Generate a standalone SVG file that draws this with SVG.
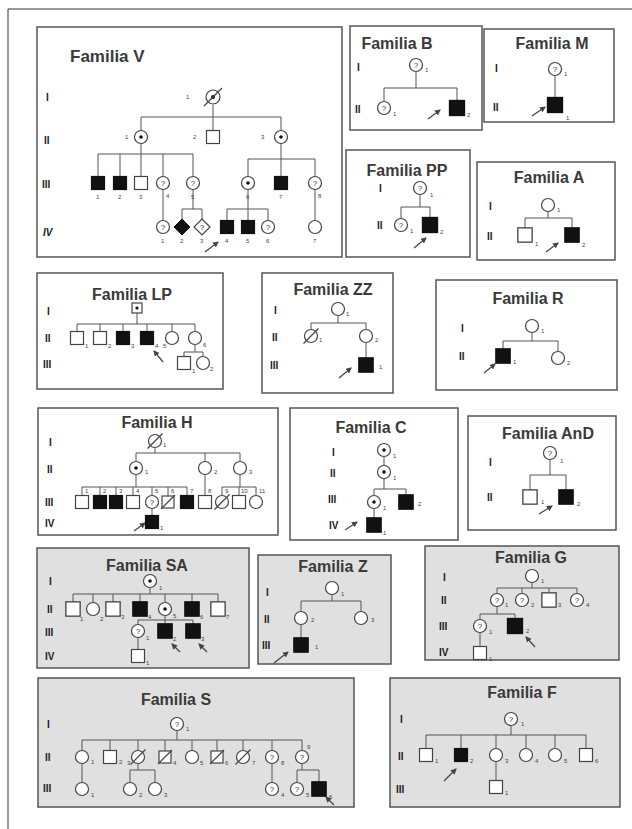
<svg xmlns="http://www.w3.org/2000/svg" xmlns:xlink="http://www.w3.org/1999/xlink" width="632" height="829" viewBox="0 0 632 829">
<style>
.box{fill:#fff;stroke:#555;stroke-width:1.5}
.boxg{fill:#e0e0e0;stroke:#555;stroke-width:1.5}
.t{font-family:"Liberation Sans",Arial,sans-serif;font-weight:bold;font-size:16px;fill:#3a3a3a;text-anchor:middle}
.g{font-family:"Liberation Sans",Arial,sans-serif;font-weight:bold;font-size:10px;fill:#222}
.n{font-family:"Liberation Sans",Arial,sans-serif;font-size:6px;fill:#444}
#connectors path{fill:none;stroke:#555;stroke-width:1}
.ar{stroke:#444;stroke-width:1.2;fill:none}
</style>
<defs>
<marker id="ah" viewBox="0 0 6 6" refX="5" refY="3" markerWidth="5" markerHeight="5" orient="auto"><path d="M0 0L6 3L0 6Z" fill="#444"/></marker>
<g id="sq"><rect x="-6.5" y="-6.5" width="13" height="13" fill="#fff" stroke="#444" stroke-width="1.2"/></g>
<g id="sqf"><rect x="-6.5" y="-6.5" width="13" height="13" fill="#111" stroke="#111" stroke-width="1.2"/></g>
<g id="sqd"><rect x="-5" y="-5" width="10" height="10" fill="#fff" stroke="#444" stroke-width="1.2"/><circle r="1.6" fill="#111"/></g>
<g id="sqx"><rect x="-6" y="-6" width="12" height="12" fill="#fff" stroke="#444" stroke-width="1.2"/><line x1="-7" y1="7" x2="7" y2="-7" stroke="#444" stroke-width="1.2"/></g>
<g id="ci"><circle r="6.5" fill="#fff" stroke="#444" stroke-width="1.2"/></g>
<g id="cid"><circle r="6.5" fill="#fff" stroke="#444" stroke-width="1.2"/><circle r="1.8" fill="#111"/></g>
<g id="ciq"><circle r="6.5" fill="#fff" stroke="#444" stroke-width="1.2"/><text y="2.8" font-family="Liberation Sans,Arial,sans-serif" font-size="8" text-anchor="middle" fill="#333">?</text></g>
<g id="cix"><circle r="6.5" fill="#fff" stroke="#444" stroke-width="1.2"/><line x1="-7.5" y1="7.5" x2="7.5" y2="-7.5" stroke="#444" stroke-width="1.2"/></g>
<g id="cixd"><circle r="7" fill="#fff" stroke="#444" stroke-width="1.2"/><circle r="2" fill="#111"/><line x1="-9" y1="9" x2="9" y2="-9" stroke="#444" stroke-width="1.2"/></g>
<g id="dmf"><path d="M0 -8L8 0L0 8L-8 0Z" fill="#111" stroke="#111"/></g>
<g id="dmq"><path d="M0 -8L8 0L0 8L-8 0Z" fill="#fff" stroke="#444" stroke-width="1.2"/><text y="2.8" font-family="Liberation Sans,Arial,sans-serif" font-size="8" text-anchor="middle" fill="#333">?</text></g>
</defs>
<rect width="632" height="829" fill="#fff"/>
<path d="M8 829V9H632" fill="none" stroke="#333" stroke-width="1"/>

<g id="panels">
<rect class="box" x="37" y="27" width="305" height="230"/>
<rect class="box" x="350" y="26" width="132" height="104"/>
<rect class="box" x="484" y="29" width="130" height="93"/>
<rect class="box" x="346" y="150" width="124" height="107"/>
<rect class="box" x="477" y="162" width="138" height="98"/>
<rect class="box" x="37" y="273" width="186" height="116"/>
<rect class="box" x="262" y="273" width="131" height="120"/>
<rect class="box" x="436" y="280" width="181" height="110"/>
<rect class="box" x="38" y="408" width="240" height="127"/>
<rect class="box" x="290" y="408" width="168" height="132"/>
<rect class="box" x="468" y="416" width="148" height="114"/>
<rect class="boxg" x="37" y="548" width="212" height="120"/>
<rect class="boxg" x="258" y="555" width="133" height="109"/>
<rect class="boxg" x="425" y="546" width="194" height="114"/>
<rect class="boxg" x="38" y="678" width="316" height="129"/>
<rect class="boxg" x="390" y="678" width="230" height="129"/>
</g>

<g id="titles">
<text class="t" x="70" y="62" style="text-anchor:start;font-size:17px">Familia V</text>
<text class="t" x="397" y="49">Familia B</text>
<text class="t" x="552" y="49">Familia M</text>
<text class="t" x="407" y="176">Familia PP</text>
<text class="t" x="549" y="183">Familia A</text>
<text class="t" x="132" y="300">Familia LP</text>
<text class="t" x="333" y="295">Familia ZZ</text>
<text class="t" x="528" y="304">Familia R</text>
<text class="t" x="157" y="428">Familia H</text>
<text class="t" x="371" y="433">Familia C</text>
<text class="t" x="548" y="439">Familia AnD</text>
<text class="t" x="147" y="571">Familia SA</text>
<text class="t" x="333" y="572">Familia Z</text>
<text class="t" x="531" y="563">Familia G</text>
<text class="t" x="176" y="705">Familia S</text>
<text class="t" x="522" y="698">Familia F</text>
</g>

<g id="generations">
<text class="g" x="46" y="101">I</text><text class="g" x="44" y="144">II</text><text class="g" x="42" y="188">III</text><text class="g" x="43" y="236" font-style="italic">IV</text>
<text class="g" x="357" y="71">I</text><text class="g" x="355" y="113">II</text>
<text class="g" x="495" y="72">I</text><text class="g" x="493" y="111">II</text>
<text class="g" x="379" y="192">I</text><text class="g" x="377" y="229">II</text>
<text class="g" x="489" y="210">I</text><text class="g" x="487" y="240">II</text>
<text class="g" x="47" y="315">I</text><text class="g" x="45" y="342">II</text><text class="g" x="43" y="368">III</text>
<text class="g" x="274" y="314">I</text><text class="g" x="272" y="341">II</text><text class="g" x="270" y="369">III</text>
<text class="g" x="461" y="332">I</text><text class="g" x="459" y="360">II</text>
<text class="g" x="49" y="446">I</text><text class="g" x="47" y="473">II</text><text class="g" x="45" y="506">III</text><text class="g" x="45" y="527">IV</text>
<text class="g" x="332" y="456">I</text><text class="g" x="330" y="477">II</text><text class="g" x="328" y="503">III</text><text class="g" x="329" y="529">IV</text>
<text class="g" x="489" y="466">I</text><text class="g" x="487" y="501">II</text>
<text class="g" x="49" y="585">I</text><text class="g" x="47" y="613">II</text><text class="g" x="45" y="636">III</text><text class="g" x="45" y="660">IV</text>
<text class="g" x="266" y="596">I</text><text class="g" x="264" y="623">II</text><text class="g" x="262" y="649">III</text>
<text class="g" x="443" y="581">I</text><text class="g" x="441" y="604">II</text><text class="g" x="439" y="630">III</text><text class="g" x="439" y="656">IV</text>
<text class="g" x="47" y="728">I</text><text class="g" x="45" y="761">II</text><text class="g" x="43" y="792">III</text>
<text class="g" x="400" y="723">I</text><text class="g" x="398" y="760">II</text><text class="g" x="396" y="793">III</text>
</g>

<g id="connectors">
<path d="M213 105V117M141 117H281M141 117V130.5M213 117V130.5M281 117V130.5"/>
<path d="M141 143.5V154M98 154H193M98 154V176.5M120 154V176.5M141 154V176.5M163 154V176.5M193 154V176.5"/>
<path d="M281 143.5V159M248 159H315M248 159V176.5M281 159V176.5M315 159V176.5"/>
<path d="M163 189.5V220.5M193 189.5V209M182 209H202M182 209V219M202 209V219"/>
<path d="M248 189.5V209M227 209H268M227 209V220.5M248 209V220.5M268 209V220.5M315 189.5V220.5"/>
<path d="M416 71.5V88M384 88H457M384 88V101.5M457 88V100.5"/>
<path d="M555 75.5V97.5"/>
<path d="M420 194.5V207M401 207H430M401 207V218.5M430 207V217.5"/>
<path d="M548 211.5V218M525 218H572M525 218V228.5M572 218V227.5"/>
<path d="M137 313V324M77 324H195M77 324V331.5M100 324V331.5M123 324V331.5M147 324V331.5M172 324V331.5M195 324V331.5"/>
<path d="M195 344.5V352M184 352H203M184 352V356.5M203 352V356.5"/>
<path d="M338 315.5V323M311 323H366M311 323V329.5M366 323V329.5M366 342.5V358"/>
<path d="M532 332.5V341M503 341H558M503 341V349M558 341V351.5"/>
<path d="M155 447.5V453M136 453H240M136 453V461.5M205 453V461.5M240 453V461.5"/>
<path d="M136 474.5V487M82 487H187M82 487V496M100 487V496M116 487V496M133 487V496M152 487V495.5M168 487V496M187 487V496"/>
<path d="M205 474.5V496M240 474.5V487M222 487H256M222 487V495.5M239 487V496M256 487V495.5"/>
<path d="M152 508.5V516"/>
<path d="M384 456.5V465.5M384 478.5V489M374 489H406M374 489V495.5M406 489V495M374 508.5V518"/>
<path d="M550 459.5V475M530 475H566M530 475V490.5M566 475V490"/>
<path d="M150 587.5V594M73 594H218M73 594V602M93 594V602.5M113 594V602M140 594V602M165 594V602.5M192 594V602M218 594V602"/>
<path d="M165 615.5V620M138 620H193M138 620V624.5M165 620V624M193 620V624M138 637.5V649.5"/>
<path d="M332 594.5V601M301 601H361M301 601V611.5M361 601V611.5M301 624.5V638"/>
<path d="M532 582.5V588M497 588H577M497 588V593.5M522 588V593.5M549 588V593.5M577 588V593.5"/>
<path d="M497 606.5V614M480 614H515M480 614V619.5M515 614V619M480 632.5V646.5"/>
<path d="M177 730.5V740M82 740H302M82 740V750.5M110 740V750.5M138 740V750.5M165 740V751M192 740V750.5M217 740V751M243 740V750.5M272 740V750.5M302 740V750.5"/>
<path d="M82 763.5V782.5M138 763.5V770M130 770H155M130 770V782.5M155 770V782.5M272 763.5V782.5M302 763.5V770M297 770H319M297 770V782.5M319 770V782"/>
<path d="M511 725.5V735M426 735H586M426 735V748.5M461 735V748.5M496 735V748.5M526 735V748.5M555 735V748.5M586 735V748.5M496 761.5V780.5"/>
</g>

<g id="arrows">
<line class="ar" marker-end="url(#ah)" x1="205" y1="252" x2="218" y2="242"/>
<line class="ar" marker-end="url(#ah)" x1="428" y1="119" x2="440" y2="110"/>
<line class="ar" marker-end="url(#ah)" x1="532" y1="116" x2="545" y2="107"/>
<line class="ar" marker-end="url(#ah)" x1="414" y1="248" x2="426" y2="238"/>
<line class="ar" marker-end="url(#ah)" x1="546" y1="252" x2="558" y2="243"/>
<line class="ar" marker-end="url(#ah)" x1="163" y1="362" x2="154" y2="351"/>
<line class="ar" marker-end="url(#ah)" x1="339" y1="378" x2="351" y2="368"/>
<line class="ar" marker-end="url(#ah)" x1="484" y1="373" x2="495" y2="364"/>
<line class="ar" marker-end="url(#ah)" x1="134" y1="531" x2="145" y2="523"/>
<line class="ar" marker-end="url(#ah)" x1="345" y1="530" x2="357" y2="522"/>
<line class="ar" marker-end="url(#ah)" x1="539" y1="514" x2="552" y2="506"/>
<line class="ar" marker-end="url(#ah)" x1="180" y1="652" x2="172" y2="644"/>
<line class="ar" marker-end="url(#ah)" x1="207" y1="652" x2="199" y2="644"/>
<line class="ar" marker-end="url(#ah)" x1="274" y1="663" x2="288" y2="652"/>
<line class="ar" marker-end="url(#ah)" x1="535" y1="647" x2="526" y2="637"/>
<line class="ar" marker-end="url(#ah)" x1="334" y1="805" x2="326" y2="797"/>
<line class="ar" marker-end="url(#ah)" x1="444" y1="781" x2="456" y2="769"/>
</g>

<g id="V-I1"><use href="#cixd" x="213" y="97"/><text class="n" x="186" y="99">1</text></g>
<g id="V-II1"><use href="#cid" x="141" y="137"/><text class="n" x="125" y="139">1</text></g>
<g id="V-II2"><use href="#sq" x="213" y="137"/><text class="n" x="193" y="139">2</text></g>
<g id="V-II3"><use href="#cid" x="281" y="137"/><text class="n" x="261" y="139">3</text></g>
<g id="V-III1"><use href="#sqf" x="98" y="183"/><text class="n" x="96" y="199">1</text></g>
<g id="V-III2"><use href="#sqf" x="120" y="183"/><text class="n" x="118" y="199">2</text></g>
<g id="V-III3"><use href="#sq" x="141" y="183"/><text class="n" x="139" y="199">3</text></g>
<g id="V-III4"><use href="#ciq" x="163" y="183"/><text class="n" x="166" y="198">4</text></g>
<g id="V-III5"><use href="#ciq" x="193" y="183"/><text class="n" x="191" y="199">5</text></g>
<g id="V-III6"><use href="#cid" x="248" y="183"/><text class="n" x="246" y="199">6</text></g>
<g id="V-III7"><use href="#sqf" x="281" y="183"/><text class="n" x="279" y="199">7</text></g>
<g id="V-III8"><use href="#ciq" x="315" y="183"/><text class="n" x="318" y="198">8</text></g>
<g id="V-IV1"><use href="#ciq" x="163" y="227"/><text class="n" x="161" y="243">1</text></g>
<g id="V-IV2"><use href="#dmf" x="182" y="227"/><text class="n" x="180" y="243">2</text></g>
<g id="V-IV3"><use href="#dmq" x="202" y="227"/><text class="n" x="200" y="243">3</text></g>
<g id="V-IV4"><use href="#sqf" x="227" y="227"/><text class="n" x="225" y="243">4</text></g>
<g id="V-IV5"><use href="#sqf" x="248" y="227"/><text class="n" x="246" y="243">5</text></g>
<g id="V-IV6"><use href="#ciq" x="268" y="227"/><text class="n" x="266" y="243">6</text></g>
<g id="V-IV7"><use href="#ci" x="315" y="227"/><text class="n" x="313" y="243">7</text></g>

<g id="B-I1"><use href="#ciq" x="416" y="65"/><text class="n" x="425" y="72">1</text></g>
<g id="B-II1"><use href="#ciq" x="384" y="108"/><text class="n" x="393" y="116">1</text></g>
<g id="B-II2"><use href="#sqf" x="457" y="108" transform="translate(457 108) scale(1.15) translate(-457 -108)"/><text class="n" x="467" y="117">2</text></g>

<g id="M-I1"><use href="#ciq" x="555" y="69"/><text class="n" x="564" y="76">1</text></g>
<g id="M-II1"><use href="#sqf" x="555" y="105" transform="translate(555 105) scale(1.15) translate(-555 -105)"/><text class="n" x="566" y="120">1</text></g>

<g id="PP-I1"><use href="#ciq" x="420" y="188"/><text class="n" x="430" y="197">1</text></g>
<g id="PP-II1"><use href="#ciq" x="401" y="225"/><text class="n" x="410" y="233">1</text></g>
<g id="PP-II2"><use href="#sqf" x="430" y="225" transform="translate(430 225) scale(1.15) translate(-430 -225)"/><text class="n" x="440" y="234">2</text></g>

<g id="A-I1"><use href="#ci" x="548" y="205"/><text class="n" x="557" y="212">1</text></g>
<g id="A-II1"><use href="#sq" x="525" y="235" transform="translate(525 235) scale(1.1) translate(-525 -235)"/><text class="n" x="535" y="246">1</text></g>
<g id="A-II2"><use href="#sqf" x="572" y="235" transform="translate(572 235) scale(1.1) translate(-572 -235)"/><text class="n" x="582" y="247">2</text></g>

<g id="LP-I1"><use href="#sqd" x="137" y="308"/></g>
<g id="LP-II1"><use href="#sq" x="77" y="338"/><text class="n" x="85" y="348">1</text></g>
<g id="LP-II2"><use href="#sq" x="100" y="338"/><text class="n" x="108" y="348">2</text></g>
<g id="LP-II3"><use href="#sqf" x="123" y="338"/><text class="n" x="131" y="348">3</text></g>
<g id="LP-II4"><use href="#sqf" x="147" y="338"/><text class="n" x="155" y="348">4</text></g>
<g id="LP-II5"><use href="#ci" x="172" y="338"/><text class="n" x="163" y="348">5</text></g>
<g id="LP-II6"><use href="#ci" x="195" y="338"/><text class="n" x="203" y="347">6</text></g>
<g id="LP-III1"><use href="#sq" x="184" y="363"/><text class="n" x="192" y="373">1</text></g>
<g id="LP-III2"><use href="#ci" x="203" y="363"/><text class="n" x="210" y="371">2</text></g>

<g id="ZZ-I1"><use href="#ci" x="338" y="309"/><text class="n" x="346" y="316">1</text></g>
<g id="ZZ-II1"><use href="#cix" x="311" y="336"/><text class="n" x="319" y="342">1</text></g>
<g id="ZZ-II2"><use href="#ci" x="366" y="336"/><text class="n" x="375" y="342">2</text></g>
<g id="ZZ-III1"><use href="#sqf" x="366" y="365" transform="translate(366 365) scale(1.1) translate(-366 -365)"/><text class="n" x="379" y="369">1</text></g>

<g id="R-I1"><use href="#ci" x="532" y="326"/><text class="n" x="541" y="333">1</text></g>
<g id="R-II1"><use href="#sqf" x="503" y="356" transform="translate(503 356) scale(1.1) translate(-503 -356)"/><text class="n" x="513" y="364">1</text></g>
<g id="R-II2"><use href="#ci" x="558" y="358"/><text class="n" x="567" y="365">2</text></g>

<g id="H-I1"><use href="#cix" x="155" y="441"/><text class="n" x="163" y="447">1</text></g>
<g id="H-II1"><use href="#cid" x="136" y="468"/><text class="n" x="145" y="474">1</text></g>
<g id="H-II2"><use href="#ci" x="205" y="468"/><text class="n" x="214" y="474">2</text></g>
<g id="H-II3"><use href="#ci" x="240" y="468"/><text class="n" x="249" y="474">3</text></g>
<g id="H-III1"><use href="#sq" x="82" y="502"/><text class="n" x="85" y="493">1</text></g>
<g id="H-III2"><use href="#sqf" x="100" y="502"/><text class="n" x="103" y="493">2</text></g>
<g id="H-III3"><use href="#sqf" x="116" y="502"/><text class="n" x="119" y="493">3</text></g>
<g id="H-III4"><use href="#sq" x="133" y="502"/><text class="n" x="136" y="493">4</text></g>
<g id="H-III5"><use href="#ciq" x="152" y="502"/><text class="n" x="155" y="493">5</text></g>
<g id="H-III6"><use href="#sqx" x="168" y="502"/><text class="n" x="171" y="493">6</text></g>
<g id="H-III7"><use href="#sqf" x="187" y="502"/><text class="n" x="190" y="493">7</text></g>
<g id="H-III8"><use href="#sq" x="205" y="502"/><text class="n" x="208" y="493">8</text></g>
<g id="H-III9"><use href="#cix" x="222" y="502"/><text class="n" x="225" y="493">9</text></g>
<g id="H-III10"><use href="#sq" x="239" y="502"/><text class="n" x="241" y="493">10</text></g>
<g id="H-III11"><use href="#ci" x="256" y="502"/><text class="n" x="259" y="493">11</text></g>
<g id="H-IV1"><use href="#sqf" x="152" y="522"/><text class="n" x="160" y="530">1</text></g>

<g id="C-I1"><use href="#cid" x="384" y="450"/><text class="n" x="393" y="458">1</text></g>
<g id="C-II1"><use href="#cid" x="384" y="472"/><text class="n" x="393" y="480">1</text></g>
<g id="C-III1"><use href="#cid" x="374" y="502"/><text class="n" x="383" y="510">1</text></g>
<g id="C-III2"><use href="#sqf" x="406" y="502" transform="translate(406 502) scale(1.1) translate(-406 -502)"/><text class="n" x="418" y="506">2</text></g>
<g id="C-IV1"><use href="#sqf" x="374" y="525" transform="translate(374 525) scale(1.1) translate(-374 -525)"/><text class="n" x="383" y="535">1</text></g>

<g id="AnD-I1"><use href="#ciq" x="550" y="453"/><text class="n" x="560" y="463">1</text></g>
<g id="AnD-II1"><use href="#sq" x="530" y="497" transform="translate(530 497) scale(1.1) translate(-530 -497)"/><text class="n" x="541" y="504">1</text></g>
<g id="AnD-II2"><use href="#sqf" x="566" y="497" transform="translate(566 497) scale(1.1) translate(-566 -497)"/><text class="n" x="577" y="506">2</text></g>

<g id="SA-I1"><use href="#cid" x="150" y="581"/><text class="n" x="159" y="590">1</text></g>
<g id="SA-II1"><use href="#sq" x="73" y="609" transform="translate(73 609) scale(1.1) translate(-73 -609)"/><text class="n" x="80" y="621">1</text></g>
<g id="SA-II2"><use href="#ci" x="93" y="609"/><text class="n" x="100" y="621">2</text></g>
<g id="SA-II3"><use href="#sq" x="113" y="609" transform="translate(113 609) scale(1.1) translate(-113 -609)"/><text class="n" x="121" y="619">3</text></g>
<g id="SA-II4"><use href="#sqf" x="140" y="609" transform="translate(140 609) scale(1.1) translate(-140 -609)"/><text class="n" x="148" y="619">4</text></g>
<g id="SA-II5"><use href="#cid" x="165" y="609"/><text class="n" x="173" y="618">5</text></g>
<g id="SA-II6"><use href="#sqf" x="192" y="609" transform="translate(192 609) scale(1.1) translate(-192 -609)"/><text class="n" x="200" y="619">6</text></g>
<g id="SA-II7"><use href="#sq" x="218" y="609" transform="translate(218 609) scale(1.1) translate(-218 -609)"/><text class="n" x="226" y="619">7</text></g>
<g id="SA-III1"><use href="#ciq" x="138" y="631"/><text class="n" x="146" y="640">1</text></g>
<g id="SA-III2"><use href="#sqf" x="165" y="631" transform="translate(165 631) scale(1.1) translate(-165 -631)"/><text class="n" x="173" y="641">2</text></g>
<g id="SA-III3"><use href="#sqf" x="193" y="631" transform="translate(193 631) scale(1.1) translate(-193 -631)"/><text class="n" x="201" y="641">3</text></g>
<g id="SA-IV1"><use href="#sq" x="138" y="656"/><text class="n" x="146" y="665">1</text></g>

<g id="Z-I1"><use href="#ci" x="332" y="588"/><text class="n" x="341" y="596">1</text></g>
<g id="Z-II1"><use href="#ci" x="301" y="618"/><text class="n" x="311" y="622">2</text></g>
<g id="Z-II2"><use href="#ci" x="361" y="618"/><text class="n" x="371" y="622">3</text></g>
<g id="Z-III1"><use href="#sqf" x="301" y="645" transform="translate(301 645) scale(1.1) translate(-301 -645)"/><text class="n" x="315" y="649">1</text></g>

<g id="G-I1"><use href="#ci" x="532" y="576"/><text class="n" x="541" y="583">1</text></g>
<g id="G-II1"><use href="#ciq" x="497" y="600"/><text class="n" x="505" y="607">1</text></g>
<g id="G-II2"><use href="#ciq" x="522" y="600"/><text class="n" x="531" y="607">2</text></g>
<g id="G-II3"><use href="#sq" x="549" y="600" transform="translate(549 600) scale(1.1) translate(-549 -600)"/><text class="n" x="558" y="607">3</text></g>
<g id="G-II4"><use href="#ciq" x="577" y="600"/><text class="n" x="586" y="607">4</text></g>
<g id="G-III1"><use href="#ciq" x="480" y="626"/><text class="n" x="489" y="634">1</text></g>
<g id="G-III2"><use href="#sqf" x="515" y="626" transform="translate(515 626) scale(1.15) translate(-515 -626)"/><text class="n" x="526" y="633">2</text></g>
<g id="G-IV1"><use href="#sq" x="480" y="653"/><text class="n" x="489" y="661">1</text></g>

<g id="S-I1"><use href="#ciq" x="177" y="724"/><text class="n" x="186" y="731">1</text></g>
<g id="S-II1"><use href="#ci" x="82" y="757"/><text class="n" x="91" y="764">1</text></g>
<g id="S-II2"><use href="#sq" x="110" y="757"/><text class="n" x="119" y="764">2</text></g>
<g id="S-II3"><use href="#cix" x="138" y="757"/><text class="n" x="127" y="765">3</text></g>
<g id="S-II4"><use href="#sqx" x="165" y="757"/><text class="n" x="173" y="765">4</text></g>
<g id="S-II5"><use href="#ci" x="192" y="757"/><text class="n" x="200" y="765">5</text></g>
<g id="S-II6"><use href="#sqx" x="217" y="757"/><text class="n" x="225" y="765">6</text></g>
<g id="S-II7"><use href="#cix" x="243" y="757"/><text class="n" x="252" y="765">7</text></g>
<g id="S-II8"><use href="#ciq" x="272" y="757"/><text class="n" x="281" y="765">8</text></g>
<g id="S-II9"><use href="#ciq" x="302" y="757"/><text class="n" x="307" y="749">9</text></g>
<g id="S-III1"><use href="#ci" x="82" y="789"/><text class="n" x="91" y="797">1</text></g>
<g id="S-III2"><use href="#ci" x="130" y="789"/><text class="n" x="139" y="797">2</text></g>
<g id="S-III3"><use href="#ci" x="155" y="789"/><text class="n" x="164" y="797">3</text></g>
<g id="S-III4"><use href="#ciq" x="272" y="789"/><text class="n" x="281" y="797">4</text></g>
<g id="S-III5"><use href="#ciq" x="297" y="789"/><text class="n" x="306" y="797">5</text></g>
<g id="S-III6"><use href="#sqf" x="319" y="789" transform="translate(319 789) scale(1.1) translate(-319 -789)"/><text class="n" x="329" y="799">6</text></g>

<g id="F-I1"><use href="#ciq" x="511" y="719"/><text class="n" x="521" y="726">1</text></g>
<g id="F-II1"><use href="#sq" x="426" y="755"/><text class="n" x="435" y="763">1</text></g>
<g id="F-II2"><use href="#sqf" x="461" y="755"/><text class="n" x="470" y="763">2</text></g>
<g id="F-II3"><use href="#ci" x="496" y="755"/><text class="n" x="505" y="763">3</text></g>
<g id="F-II4"><use href="#ci" x="526" y="755"/><text class="n" x="535" y="763">4</text></g>
<g id="F-II5"><use href="#ci" x="555" y="755"/><text class="n" x="564" y="763">5</text></g>
<g id="F-II6"><use href="#sq" x="586" y="755"/><text class="n" x="595" y="763">6</text></g>
<g id="F-III1"><use href="#sq" x="496" y="787"/><text class="n" x="505" y="795">1</text></g>
</svg>
